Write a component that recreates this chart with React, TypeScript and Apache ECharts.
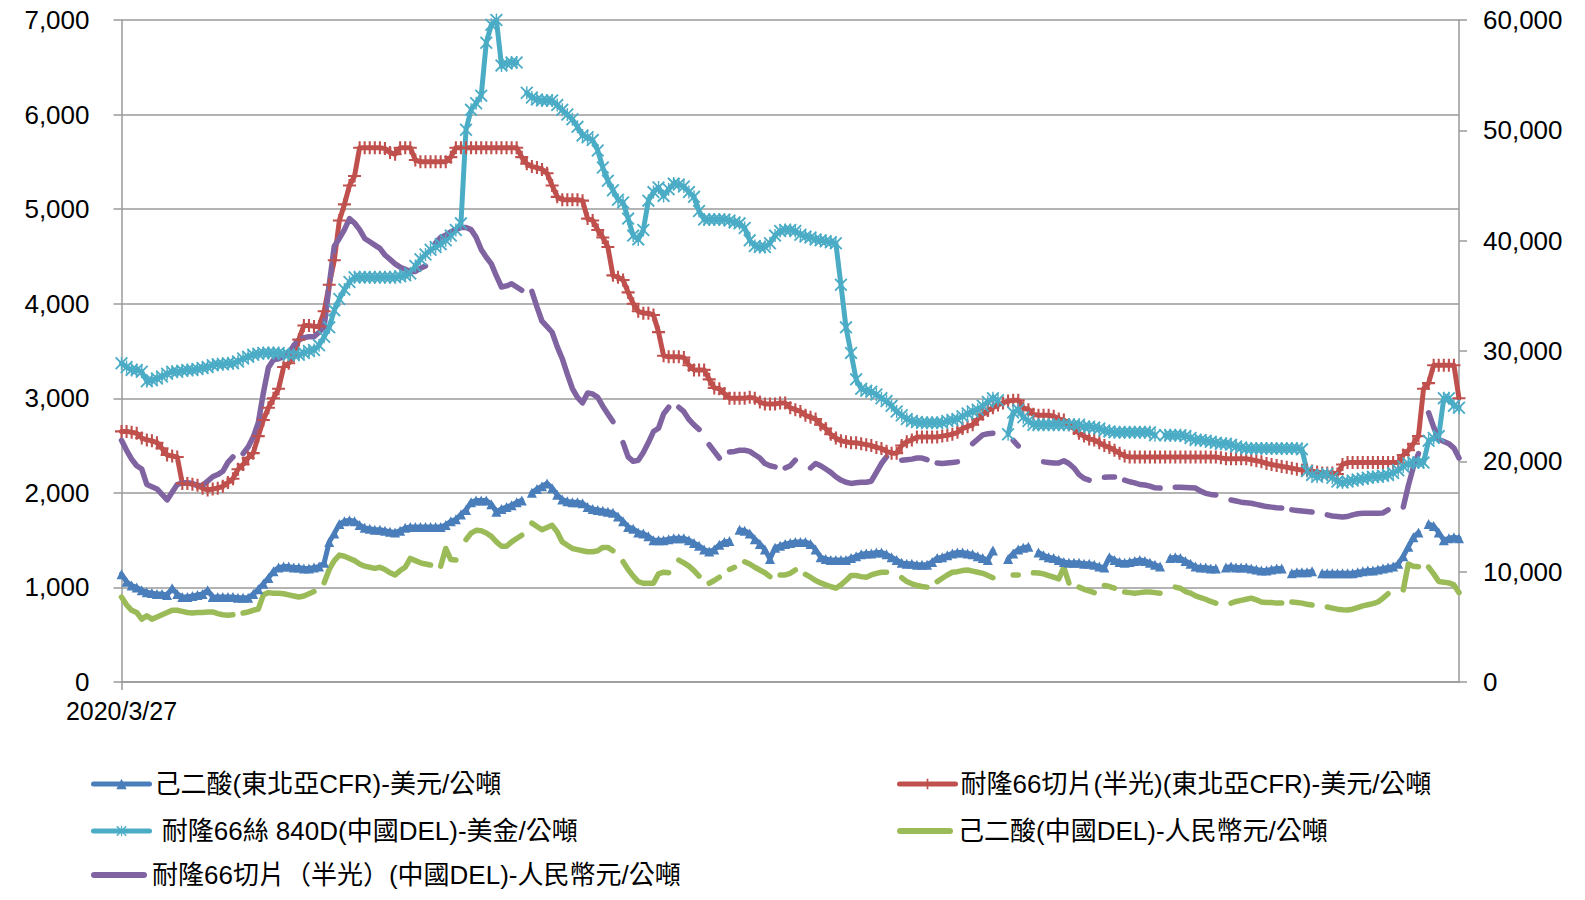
import React, { useEffect, useRef } from "react";
import * as echarts from "echarts";

// ---- Series names (legend) ----
const NAME_ADA_CFR = "己二酸(東北亞CFR)-美元/公噸";
const NAME_PA66_CFR = "耐隆66切片(半光)(東北亞CFR)-美元/公噸";
const NAME_YARN = " 耐隆66絲 840D(中國DEL)-美金/公噸";
const NAME_ADA_DEL = "己二酸(中國DEL)-人民幣元/公噸";
const NAME_PA66_DEL = "耐隆66切片（半光）(中國DEL)-人民幣元/公噸";

// ---- Categories: weekly observations starting 2020/3/27 ----
const START_DATE = "2020/3/27";
const N_POINTS = 265;
const categories: string[] = (() => {
  const out: string[] = [];
  const d = new Date(2020, 2, 27);
  for (let i = 0; i < N_POINTS; i++) {
    out.push(`${d.getFullYear()}/${d.getMonth() + 1}/${d.getDate()}`);
    d.setDate(d.getDate() + 7);
  }
  return out;
})();

// ---- Left axis (USD/t) ----
const adaCfr = [
  1140,1060,1020,1000,970,950,940,930,930,920,
  990,930,900,900,910,920,930,970,900,900,
  900,900,900,890,890,890,930,980,1040,1100,
  1170,1210,1220,1220,1210,1210,1200,1200,1210,1220,
  1260,1480,1570,1670,1700,1710,1700,1660,1630,1620,
  1610,1610,1600,1590,1580,1600,1630,1640,1640,1640,
  1640,1640,1640,1640,1660,1700,1720,1770,1820,1900,
  1920,1920,1920,1880,1800,1830,1850,1870,1900,1920,
  null,2000,2040,2070,2100,2050,1980,1930,1910,1900,
  1900,1890,1850,1830,1820,1810,1800,1790,1750,1700,
  1640,1620,1580,1570,1540,1500,1500,1500,1510,1520,
  1520,1520,1500,1470,1440,1400,1380,1400,1450,1480,
  1490,null,1610,1600,1570,1510,1460,1400,1300,1420,
  1440,1460,1470,1480,1480,1480,1460,1400,1320,1300,
  1290,1290,1290,1290,1310,1330,1350,1360,1360,1370,
  1370,1350,1320,1290,1260,1250,1250,1240,1240,1240,
  1270,1310,1320,1340,1360,1370,1370,1360,1350,1330,
  1310,1290,1390,null,null,1300,1360,1400,1420,1430,
  null,1370,1340,1320,1310,1290,1270,1260,1260,1260,
  1250,1250,1240,1220,1210,1320,1290,1270,1260,1270,
  1280,1290,1280,1260,1240,1220,null,1310,1320,1310,
  1280,1250,1220,1210,1210,1200,1200,null,1210,1220,
  1210,1210,1210,1200,1190,1180,1180,1190,1200,1200,
  null,1150,1160,1160,1160,1170,null,1150,1150,1150,
  1150,1150,1150,1150,1160,1170,1180,1180,1190,1200,
  1210,1220,1250,1330,1430,1530,1580,null,1670,1650,
  1580,1500,1520,1530,1520,
];

const pa66Cfr = [
  2650,2650,2640,2630,2580,2560,2550,2530,2470,2400,
  2390,2380,2100,2100,2090,2080,2050,2030,2040,2050,
  2070,2110,2150,2250,2300,2370,2420,2600,2770,2900,
  3000,3100,3330,3370,3450,3620,3770,3770,3760,3760,
  3920,4200,4460,4880,5050,5250,5350,5650,5650,5650,
  5650,5650,5640,5600,5580,5650,5650,5650,5520,5500,
  5500,5500,5500,5500,5500,5550,5650,5650,5650,5650,
  5650,5650,5650,5650,5650,5650,5650,5650,5650,5550,
  5480,5450,5440,5420,5380,5250,5130,5100,5100,5100,
  5100,5090,4900,4880,4780,4700,4600,4300,4280,4250,
  4120,4000,3920,3900,3900,3880,3700,3450,3440,3440,
  3440,3430,3350,3300,3300,3300,3200,3110,3100,3050,
  3000,3000,3000,3000,3010,3000,2960,2940,2940,2940,
  2950,2950,2900,2880,2860,2820,2800,2780,2720,2680,
  2620,2580,2550,2540,2530,2530,2520,2510,2500,2480,
  2470,2440,2420,2420,2500,2540,2560,2590,2590,2590,
  2590,2590,2600,2610,2620,2640,2680,2700,2720,2780,
  2830,2870,2900,2930,2950,2970,2980,2980,2900,2880,
  2830,2820,2820,2820,2810,2780,2770,2720,2680,2630,
  2600,2570,2560,2530,2500,2480,2450,2420,2390,2380,
  2380,2380,2380,2380,2380,2380,2380,2380,2380,2380,
  2380,2380,2380,2380,2380,2380,2380,2370,2360,2360,
  2360,2360,2360,2350,2340,2330,2310,2300,2290,2280,
  2270,2260,2250,2240,2240,2230,2220,2210,2210,2210,
  2200,2300,2320,2320,2320,2320,2320,2320,2320,2320,
  2320,2320,2320,2400,2450,2520,2600,3100,3160,3350,
  3350,3350,3350,3350,3000,
];

const yarn840D = [
  3370,3330,3300,3300,3280,3180,3190,3210,3230,3260,
  3280,3280,3290,3300,3300,3310,3320,3330,3350,3360,
  3360,3370,3370,3390,3420,3440,3460,3470,3480,3480,
  3480,3480,3470,3460,3460,3460,3480,3500,3510,3560,
  3650,3750,3930,4050,4150,4230,4280,4280,4280,4280,
  4280,4280,4280,4280,4280,4290,4300,4320,4400,4470,
  4520,4570,4600,4630,4670,4720,4780,4850,5840,6050,
  6120,6200,6760,6950,7000,6520,6540,6550,6550,null,
  6230,6180,6160,6150,6150,6150,6100,6050,6000,5950,
  5870,5780,5760,5730,5620,5440,5300,5200,5100,5070,
  4900,4720,4680,4780,5090,5180,5230,5140,5210,5270,
  5260,5240,5180,5130,4980,4890,4890,4890,4890,4890,
  4880,4860,4850,4800,4670,4610,4600,4600,4640,4720,
  4770,4780,4780,4770,4730,4710,4700,4680,4670,4660,
  4650,4640,4200,3750,3480,3200,3100,3080,3070,3040,
  3000,2970,2920,2860,2820,2780,2760,2750,2740,2740,
  2740,2740,2740,2760,2770,2780,2810,2840,2860,2880,
  2920,2960,3000,2980,null,2620,2850,2880,2800,2760,
  2720,2720,2720,2720,2720,2720,2720,2720,2720,2720,
  2700,2700,2690,2680,2660,2650,2640,2640,2640,2640,
  2640,2640,2640,2640,2610,null,2610,2610,2610,2610,
  2600,2580,2560,2560,2550,2540,2530,2520,2520,2510,
  2490,2480,2470,2470,2470,2470,2470,2470,2470,2470,
  2470,2470,2470,2460,2230,2190,2170,2190,2200,2160,
  2120,2110,2120,2130,2140,2150,2160,2170,2170,2180,
  2190,2210,2240,2280,2310,2320,2320,2320,2550,2580,
  2600,3000,3000,2920,2900,
];

// ---- Right axis (RMB/t) ----
const adaDel = [
  7700,7000,6500,6300,5700,6000,5700,5900,6100,6300,
  6500,6500,6400,6300,6250,6300,6300,6350,6350,6200,
  6100,6050,6100,null,6250,6350,6500,6600,7900,8100,
  8050,8050,8000,7900,7800,7700,7800,8000,8200,null,
  9000,10200,11000,11500,11400,11200,11000,10700,10500,10400,
  10300,10400,10200,9900,9700,10100,10400,11200,11000,10800,
  10700,10600,null,10500,12100,11100,11050,null,12900,13500,
  13750,13700,13500,13200,12700,12300,12300,12700,13000,13300,
  null,14400,14100,13800,14000,14200,13600,12700,12400,12100,
  12000,11900,11800,11800,11900,12200,12200,11900,null,10900,
  10200,9600,9100,8950,8950,8950,9800,9950,9900,null,
  11050,10800,10500,10100,9600,null,8950,9200,9500,null,
  10200,10400,null,10900,10700,10400,10150,9900,9550,null,
  9700,9700,9850,10150,null,9750,9500,9200,8980,8800,
  8650,8500,8800,9200,9650,9650,9550,9500,9700,9850,
  9950,9950,null,null,9450,9100,8900,8750,8650,8600,
  null,9100,9400,9700,9950,10000,10100,10150,10050,9950,
  9850,9650,9450,null,null,null,9700,9700,null,null,
  9900,9880,9800,9650,9500,9350,10400,8970,null,8600,
  8400,8250,8100,null,8750,8650,8500,null,8150,8100,
  8050,8100,8150,8150,8100,8050,null,null,8600,8500,
  8200,8050,7800,7650,7500,7300,7150,null,null,7150,
  7300,7400,7500,7600,7450,7250,7200,7200,7150,7150,
  null,7250,7200,7150,7050,6980,null,null,6800,6700,
  6600,6550,6520,6600,6750,6900,7000,7100,7250,7600,
  8000,null,null,8350,10700,10500,10450,null,10420,9800,
  9100,9050,8980,8800,8100,
];

const pa66Del = [
  21900,21000,20200,19600,19300,17900,17700,17500,17000,16500,
  17200,17900,18050,18050,18000,17800,17800,18200,18600,18800,
  19100,19900,20400,null,20700,21300,22200,23500,26200,28500,
  29200,29300,29500,29800,30500,31000,31200,31300,31300,31700,
  32200,36000,39500,40200,41000,42000,41600,41000,40200,39900,
  39600,39300,38700,38300,37900,37600,37400,37200,37200,37500,
  37700,null,39800,40300,40500,40800,41000,41200,41200,41000,
  40300,39200,38500,37900,36800,35800,35900,36100,35800,35500,
  null,35400,34000,32700,32200,31700,30400,29300,27900,26600,
  25800,25300,26200,26100,25800,25000,24300,23600,null,21700,
  20400,20000,20100,20800,21700,22700,23000,24300,24900,null,
  24900,24500,23800,23300,22900,null,21500,20900,20300,null,
  20850,20900,21000,21000,20900,20600,20300,19800,19600,19500,
  null,19400,19600,20100,null,null,19400,19800,19600,19300,
  19000,18600,18300,18100,18000,18050,18100,18100,18200,19000,
  19800,20400,null,null,20100,20150,20200,20300,20300,20150,
  null,19850,19800,19850,19900,19950,null,null,21600,22000,
  22400,22500,22550,null,null,null,21900,21400,null,null,
  null,null,19950,19900,19850,19850,20050,19800,19400,18800,
  18450,18300,null,null,18550,18580,18580,null,18300,18150,
  18050,17900,17850,17750,17600,17580,null,null,17650,17650,
  17620,17600,17580,17300,17100,17000,16950,null,null,16500,
  16400,16300,16250,16200,16100,16000,15900,15850,15800,15770,
  null,15600,15550,15500,15450,15400,null,null,15150,15050,
  15000,14950,15000,15150,15250,15300,15300,15300,15300,15320,
  15600,null,null,15860,17800,19500,20700,null,24400,23100,
  22000,21800,21600,21200,20300,
];

// ---- Axis scales ----
const LEFT_MAX = 7000;
const LEFT_STEP = 1000;
const RIGHT_MAX = 60000;
const RIGHT_STEP = 10000;

const COLORS = {
  blue: "#4A7EBB",
  red: "#C0504D",
  cyan: "#4BACC6",
  green: "#9BBB59",
  purple: "#8064A2",
  grid: "#9A9A9A",
};

const FONT = "'Liberation Sans', Arial, 'Noto Sans CJK TC', sans-serif";

const PLUS = "path://M4.2,0 H5.8 V4.2 H10 V5.8 H5.8 V10 H4.2 V5.8 H0 V4.2 H4.2 Z";
const STAR =
  "path://M0,1 L1,0 L10,9 L9,10 Z M9,0 L10,1 L1,10 L0,9 Z M4.45,0 H5.55 V10 H4.45 Z";
const CAPSULE = "path://M3,0 H53 A3,3 0 0 1 53,6 H3 A3,3 0 0 1 3,0 Z";

const fmt = (v: number) => v.toLocaleString("en-US");

export default function App() {
  const ref = useRef<HTMLDivElement>(null);
  useEffect(() => {
    if (!ref.current) return;
    const chart = echarts.init(ref.current, undefined, { renderer: "svg" });
    const lineCommon = (color: string, width = 5) => ({
      color,
      width,
      cap: "round",
      join: "round",
    });
    const firstOnly = (idx: number) => idx === 0;
    const legendItem = (
      name: string,
      left: number,
      centerY: number,
      plain = false
    ) => ({
      data: plain ? [{ name, icon: CAPSULE }] : [name],
      left,
      top: centerY - 13,
      padding: 0,
      itemWidth: 56,
      itemHeight: plain ? 6 : 13,
      selectedMode: false,
      lineStyle: { width: 5, cap: "round" },
      textStyle: { fontSize: 26, lineHeight: 26, color: "#000", fontFamily: FONT },
    });
    chart.setOption({
      animation: false,
      backgroundColor: "#fff",
      grid: {
        left: 121.5,
        right: 126,
        top: 20,
        bottom: 218,
        containLabel: false,
        outerBoundsMode: "none",
      },
      legend: [
        legendItem(NAME_ADA_CFR, 91, 784),
        legendItem(NAME_PA66_CFR, 897, 784),
        legendItem(NAME_YARN, 91, 831),
        legendItem(NAME_ADA_DEL, 897, 831, true),
        legendItem(NAME_PA66_DEL, 91, 875, true),
      ],
      xAxis: {
        type: "category",
        data: categories,
        boundaryGap: false,
        axisLine: { show: true, lineStyle: { color: COLORS.grid, width: 1.5 } },
        axisTick: {
          show: true,
          interval: firstOnly,
          length: 8,
          lineStyle: { color: COLORS.grid, width: 1.5 },
        },
        axisLabel: {
          interval: firstOnly,
          margin: 19,
          fontSize: 25,
          lineHeight: 20,
          color: "#000",
          fontFamily: FONT,
          formatter: (v: string, i: number) => (i === 0 ? START_DATE : v),
        },
        splitLine: { show: false },
      },
      yAxis: [
        {
          type: "value",
          min: 0,
          max: LEFT_MAX,
          interval: LEFT_STEP,
          axisLine: { show: true, lineStyle: { color: COLORS.grid, width: 1.5 } },
          axisTick: { show: true, length: 8, lineStyle: { color: COLORS.grid, width: 1.5 } },
          axisLabel: {
            margin: 32,
            fontSize: 26,
            lineHeight: 20,
            color: "#000",
            fontFamily: FONT,
            formatter: fmt,
          },
          splitLine: { show: true, lineStyle: { color: COLORS.grid, width: 1.5 } },
        },
        {
          type: "value",
          min: 0,
          max: RIGHT_MAX,
          interval: RIGHT_STEP,
          position: "right",
          axisLine: { show: true, lineStyle: { color: COLORS.grid, width: 1.5 } },
          axisTick: { show: true, length: 8, lineStyle: { color: COLORS.grid, width: 1.5 } },
          axisLabel: {
            margin: 24,
            fontSize: 26,
            lineHeight: 20,
            color: "#000",
            fontFamily: FONT,
            formatter: fmt,
          },
          splitLine: { show: false },
        },
      ],
      series: [
        {
          name: NAME_ADA_CFR,
          type: "line",
          yAxisIndex: 0,
          data: adaCfr,
          symbol: "triangle",
          symbolSize: 10,
          showAllSymbol: true,
          connectNulls: false,
          lineStyle: lineCommon(COLORS.blue),
          itemStyle: { color: COLORS.blue },
        },
        {
          name: NAME_PA66_CFR,
          type: "line",
          yAxisIndex: 0,
          data: pa66Cfr,
          symbol: PLUS,
          symbolSize: 13,
          showAllSymbol: true,
          connectNulls: false,
          lineStyle: lineCommon(COLORS.red),
          itemStyle: { color: COLORS.red },
        },
        {
          name: NAME_YARN,
          type: "line",
          yAxisIndex: 0,
          data: yarn840D,
          symbol: STAR,
          symbolSize: 13,
          showAllSymbol: true,
          connectNulls: false,
          lineStyle: lineCommon(COLORS.cyan),
          itemStyle: { color: COLORS.cyan },
        },
        {
          name: NAME_ADA_DEL,
          type: "line",
          yAxisIndex: 1,
          data: adaDel,
          symbol: "none",
          connectNulls: false,
          lineStyle: lineCommon(COLORS.green, 5.5),
          itemStyle: { color: COLORS.green },
        },
        {
          name: NAME_PA66_DEL,
          type: "line",
          yAxisIndex: 1,
          data: pa66Del,
          symbol: "none",
          connectNulls: false,
          lineStyle: lineCommon(COLORS.purple, 5.5),
          itemStyle: { color: COLORS.purple },
        },
      ],
    });
    return () => chart.dispose();
  }, []);
  return (
    <div
      ref={ref}
      style={{ position: "absolute", left: 0, top: 0, width: 1585, height: 900 }}
    />
  );
}
